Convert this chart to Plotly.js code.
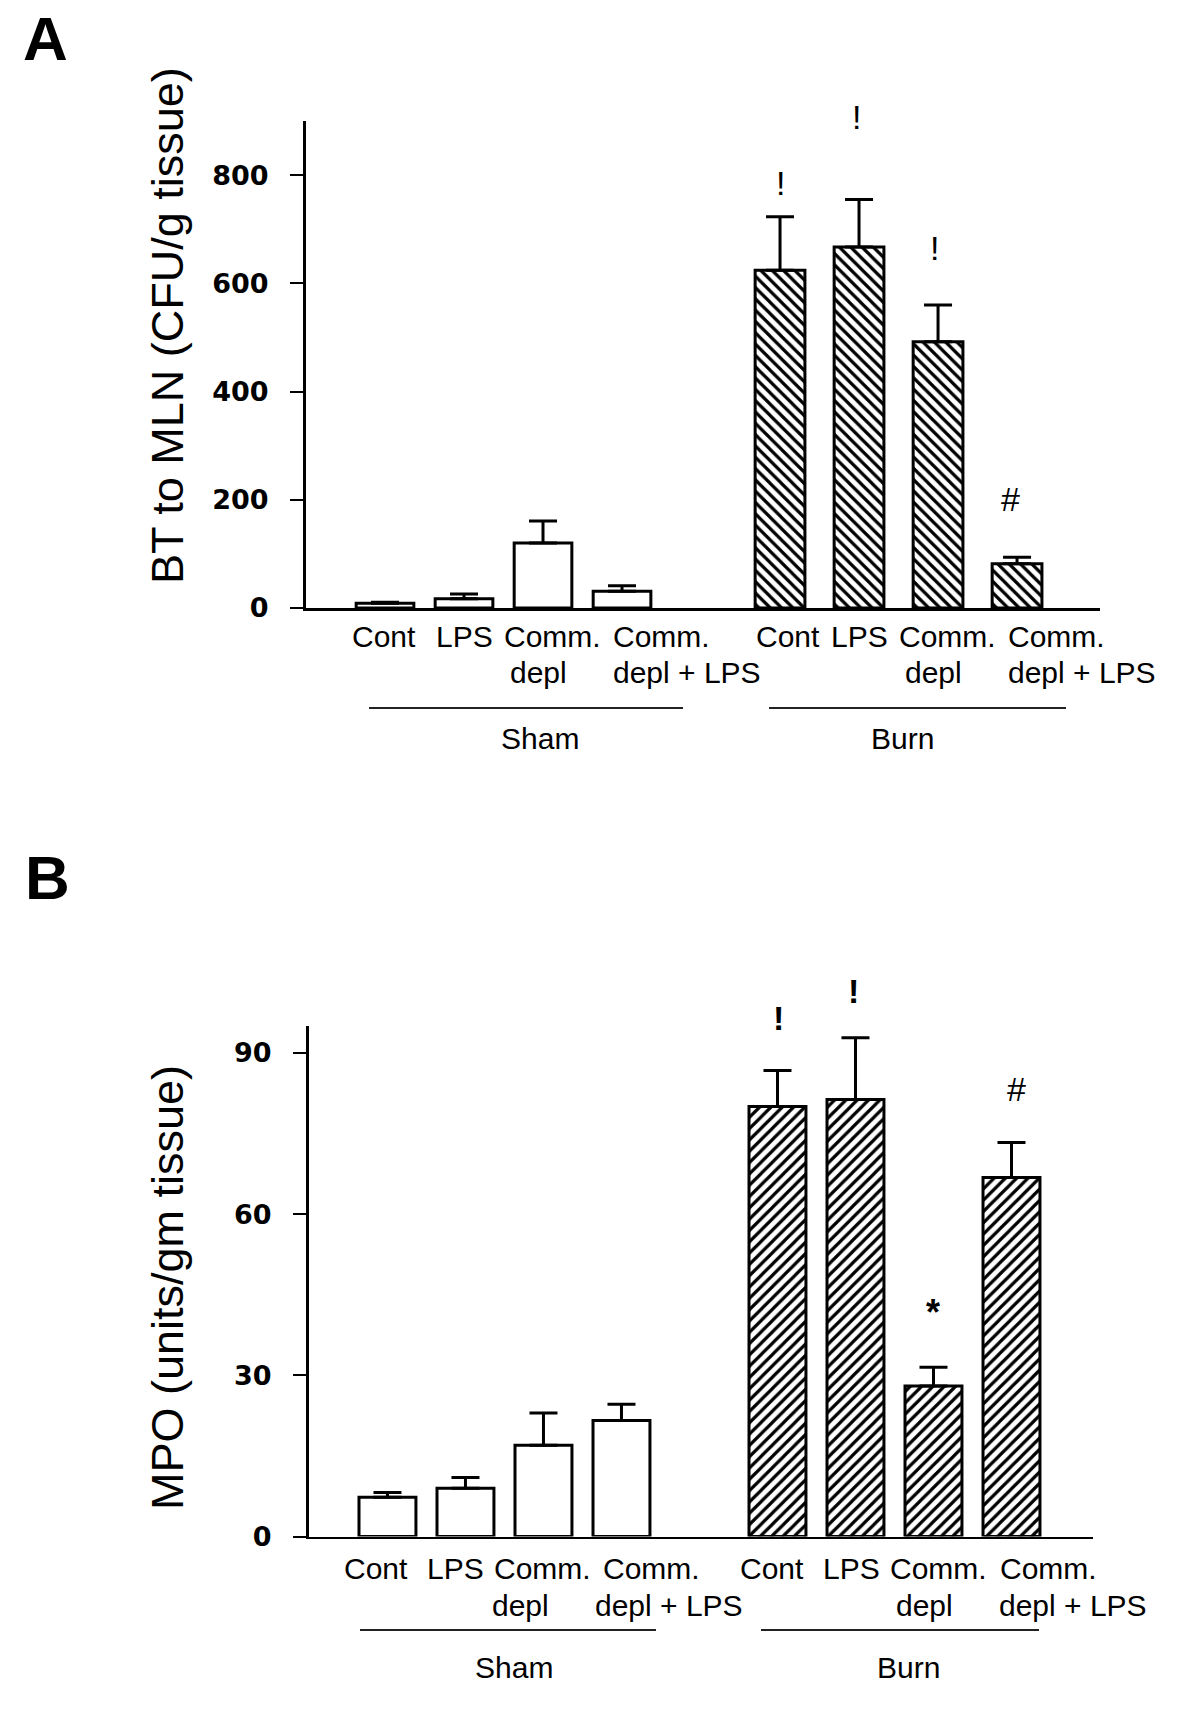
<!DOCTYPE html>
<html><head><meta charset="utf-8">
<script src="https://cdn.plot.ly/plotly-3.0.1.min.js"></script>
<style>html,body{margin:0;padding:0;background:#fff;} #chart{width:1200px;height:1735px;}</style>
</head><body><div id="chart"></div>
<script>
// ---------- data ----------
const groupNames = ['Sham', 'Burn'];
const row1Labels = ['Cont', 'LPS', 'Comm.', 'Comm.'];
const row2Labels = ['', '', 'depl', 'depl + LPS'];

// Panel A: BT to MLN (CFU/g tissue)
const btSham = [9, 17, 120, 31];
const btShamErr = [1.5, 9, 41, 10];
const btBurn = [624, 667, 492, 82];
const btBurnErr = [99, 88, 68, 12];
const btMarks = ['!', '!', '!', '#'];
const btMarkY = [785, 907, 665, 201];
const btTicks = [0, 200, 400, 600, 800];
const btRange = [0, 900];

// Panel B: MPO (units/gm tissue)
const mpoSham = [7.3, 9, 17, 21.6];
const mpoShamErr = [0.9, 2, 6, 3];
const mpoBurn = [80, 81.3, 28, 66.8];
const mpoBurnErr = [6.7, 11.5, 3.5, 6.5];
const mpoMarks = ['!', '!', '*', '#'];
const mpoMarkY = [96.5, 101.5, 41.6, 83.3];
const mpoTicks = [0, 30, 60, 90];
const mpoRange = [0, 95];

// ---------- layout helpers ----------
const W = 1200, H = 1735;
const px = v => v / W;
const py = v => 1 - v / H;
const FONT = 'Liberation Sans, Arial, sans-serif';
const posSham = row1Labels.map((_, i) => i);
const posBurn = row1Labels.map((_, i) => i + 5);
const zeros = row1Labels.map(() => 0);

function barTrace(x, y, err, xa, ya, width, pattern) {
  const marker = {color: 'white', line: {color: 'black', width: 3}};
  if (pattern) marker.pattern = {shape: pattern, fgcolor: 'black', bgcolor: 'white', size: 8, solidity: 0.4};
  return {
    type: 'bar', x: x, y: y, width: width, xaxis: xa, yaxis: ya, marker: marker,
    error_y: {type: 'data', array: err, arrayminus: zeros, symmetric: false, color: 'black', thickness: 3, width: 14},
    hoverinfo: 'skip', showlegend: false, cliponaxis: false
  };
}

const data = [
  barTrace(posSham, btSham, btShamErr, 'x', 'y', 0.73, null),
  barTrace(posBurn, btBurn, btBurnErr, 'x', 'y', 0.63, '\\'),
  barTrace(posSham, mpoSham, mpoShamErr, 'x2', 'y2', 0.73, null),
  barTrace(posBurn, mpoBurn, mpoBurnErr, 'x2', 'y2', 0.73, '/')
];

function xAxis(d0, d1, r, anchor) {
  return {domain: [px(d0), px(d1)], range: r, anchor: anchor, showline: true, linecolor: 'black', linewidth: 2.5,
    showticklabels: false, ticks: '', showgrid: false, zeroline: false, fixedrange: true};
}
function yAxis(top, bottom, r, tv, anchor) {
  return {domain: [py(bottom), py(top)], range: r, anchor: anchor, showline: true, linecolor: 'black', linewidth: 3,
    tickvals: tv, ticktext: tv.map(String), ticks: 'outside', ticklen: 13, tickwidth: 2, tickcolor: 'black',
    ticklabelstandoff: 16,
    tickfont: {family: 'DejaVu Sans, sans-serif', size: 27, color: 'black', weight: 'bold'},
    showgrid: false, zeroline: false, fixedrange: true};
}

const ann = [];
const shapes = [];
function txt(text, x, y, size, opts) {
  ann.push(Object.assign({text: text, x: x, y: y, xref: 'paper', yref: 'paper', showarrow: false,
    xanchor: 'center', yanchor: 'middle', font: {family: FONT, size: size, color: 'black'}}, opts || {}));
}

// panel letters
txt('A', px(45), py(38), 62, {font: {family: FONT, size: 62, color: 'black', weight: 'bold'}});
txt('B', px(47), py(877), 62, {font: {family: FONT, size: 62, color: 'black', weight: 'bold'}});
// axis titles
txt('BT to MLN (CFU/g tissue)', px(168), py(326), 45, {textangle: -90});
txt('MPO (units/gm tissue)', px(167), py(1288), 45, {textangle: -90});

// category labels
function catLabels(xref, positions, shifts1, shifts2, y1, y2) {
  positions.forEach((p, i) => {
    ann.push({text: row1Labels[i], x: p, y: py(y1), xref: xref, yref: 'paper', xshift: shifts1[i], showarrow: false,
      xanchor: 'center', yanchor: 'middle', font: {family: FONT, size: 30, color: 'black'}});
    if (row2Labels[i]) ann.push({text: row2Labels[i], x: p, y: py(y2), xref: xref, yref: 'paper', xshift: shifts2[i], showarrow: false,
      xanchor: 'center', yanchor: 'middle', font: {family: FONT, size: 30, color: 'black'}});
  });
}
catLabels('x', posSham, [-1, 0, 9, 39], [0, 0, -5, 65], 636, 673);
catLabels('x', posBurn, [8, 0, 9, 39], [0, 0, -5, 65], 636, 673);
catLabels('x2', posSham, [-11, -10, -1, 30], [0, 0, -23, 48], 1568, 1605);
catLabels('x2', posBurn, [-5, -4, 5, 37], [0, 0, -9, 62], 1568, 1605);

// group brackets and names
function group(x0, x1, yLine, name, xName, yName) {
  shapes.push({type: 'line', xref: 'paper', yref: 'paper', x0: px(x0), x1: px(x1), y0: py(yLine), y1: py(yLine),
    line: {color: '#222', width: 1.8}});
  txt(name, px(xName), py(yName), 30);
}
group(369, 683, 708, groupNames[0], 540, 739);
group(769, 1066, 708, groupNames[1], 902, 739);
group(360, 656, 1630, groupNames[0], 514, 1667);
group(761, 1039, 1630, groupNames[1], 909, 1667);

// significance marks (y given in data units, placed via the axis domain so they may sit above the range)
function marks(xref, ydom, range, positions, labels, ys, shifts, boldBang) {
  positions.forEach((p, i) => {
    const lab = labels[i];
    const bold = lab === '*' || (lab === '!' && boldBang);
    ann.push({text: lab, x: p, y: (ys[i] - range[0]) / (range[1] - range[0]), xref: xref, yref: ydom, xshift: shifts[i], showarrow: false,
      xanchor: 'center', yanchor: 'middle', font: {family: FONT, size: lab === '*' ? 36 : 34, color: 'black', weight: bold ? 'bold' : 'normal'}});
  });
}
marks('x', 'y domain', btRange, posBurn, btMarks, btMarkY, [0, -3, -4, -7], false);
marks('x2', 'y2 domain', mpoRange, posBurn, mpoMarks, mpoMarkY, [1, -2, 0, 5], true);

const layout = {
  width: W, height: H, margin: {l: 0, r: 0, t: 0, b: 0},
  paper_bgcolor: 'white', plot_bgcolor: 'white', showlegend: false, bargap: 0,
  font: {family: FONT, color: 'black'},
  xaxis: xAxis(306, 1100, [-1, 9.05], 'y'),
  yaxis: yAxis(121, 608, btRange, btTicks, 'x'),
  xaxis2: xAxis(309, 1093, [-1.006, 9.045], 'y2'),
  yaxis2: yAxis(1026, 1536.5, mpoRange, mpoTicks, 'x2'),
  annotations: ann, shapes: shapes
};

Plotly.newPlot('chart', data, layout, {staticPlot: true, displayModeBar: false});
</script>
</body></html>
